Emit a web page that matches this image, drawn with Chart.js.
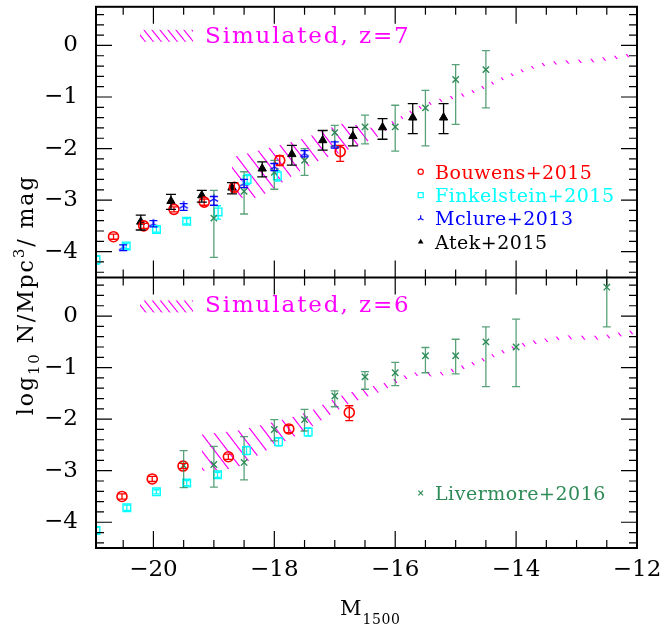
<!DOCTYPE html>
<html><head><meta charset="utf-8">
<script src="https://cdn.jsdelivr.net/npm/chart.js@4.4.1/dist/chart.umd.min.js"></script>
<style>html,body{margin:0;padding:0;background:#fff;}canvas{display:block;}</style>
</head><body>
<canvas id="c" width="665" height="626"></canvas>
<script>
// ---------- data ----------
const xTicks = [-20, -18, -16, -14, -12];
const yTicks = [-4, -3, -2, -1, 0];

// rows: [M1500, log10 phi, lower, upper]
const bouwens7 = [
  [-20.66,-3.71,-3.76,-3.66],[-20.16,-3.50,-3.55,-3.45],[-19.66,-3.18,-3.23,-3.13],
  [-19.16,-3.04,-3.10,-2.98],[-18.66,-2.75,-2.84,-2.66],[-17.91,-2.23,-2.33,-2.14],
  [-16.91,-2.06,-2.25,-1.94]];
const finkelstein7 = [
  [-20.95,-4.16,-4.24,-4.08],[-20.45,-3.89,-3.94,-3.84],[-19.95,-3.57,-3.62,-3.52],
  [-19.45,-3.41,-3.46,-3.36],[-18.93,-3.23,-3.37,-3.11],[-18.45,-2.60,-2.70,-2.50],
  [-17.95,-2.53,-2.63,-2.43]];
const mclure7 = [
  [-20.50,-3.92,-3.98,-3.87],[-20.00,-3.46,-3.52,-3.40],[-19.50,-3.11,-3.20,-3.07],
  [-19.00,-2.98,-3.10,-2.93],[-18.50,-2.68,-2.76,-2.60],[-18.00,-2.36,-2.43,-2.29],
  [-17.50,-2.10,-2.16,-2.04],[-17.00,-1.93,-1.99,-1.87]];
const atek7 = [
  [-20.21,-3.42,-3.58,-3.29],[-19.71,-3.02,-3.18,-2.89],[-19.20,-2.91,-3.04,-2.81],
  [-18.70,-2.76,-2.88,-2.66],[-18.20,-2.39,-2.55,-2.26],[-17.71,-2.11,-2.32,-1.94],
  [-17.20,-1.84,-2.03,-1.65],[-16.70,-1.76,-1.95,-1.59],[-16.21,-1.59,-1.82,-1.42],
  [-15.71,-1.40,-1.71,-1.13],[-15.20,-1.40,-1.71,-1.13]];
const livermore7 = [
  [-19.0,-3.35,-4.11,-2.81],[-18.5,-2.83,-3.27,-2.45],[-18.0,-2.46,-2.79,-2.23],
  [-17.5,-2.23,-2.52,-2.00],[-17.0,-1.69,-1.95,-1.55],[-16.5,-1.58,-1.91,-1.35],
  [-16.0,-1.58,-2.05,-1.16],[-15.5,-1.21,-1.95,-0.87],[-15.0,-0.66,-1.53,-0.37],
  [-14.5,-0.47,-1.21,-0.10]];

const bouwens6 = [
  [-20.52,-3.50,-3.55,-3.45],[-20.02,-3.16,-3.21,-3.11],[-19.51,-2.91,-2.96,-2.86],
  [-18.76,-2.73,-2.78,-2.68],[-17.76,-2.19,-2.26,-2.12],[-16.76,-1.87,-2.03,-1.74]];
const finkelstein6 = [
  [-20.95,-4.16,-4.22,-4.10],[-20.44,-3.72,-3.77,-3.67],[-19.95,-3.41,-3.45,-3.37],
  [-19.45,-3.24,-3.29,-3.19],[-18.94,-3.08,-3.13,-3.03],[-18.46,-2.61,-2.69,-2.53],
  [-17.93,-2.44,-2.52,-2.36],[-17.44,-2.25,-2.33,-2.17]];
const livermore6 = [
  [-19.5,-2.90,-3.33,-2.61],[-19.0,-2.88,-3.32,-2.53],[-18.5,-2.84,-3.18,-2.34],
  [-18.0,-2.20,-2.42,-2.01],[-17.5,-2.01,-2.23,-1.81],[-17.0,-1.55,-1.76,-1.45],
  [-16.5,-1.18,-1.42,-1.08],[-16.0,-1.10,-1.35,-0.90],[-15.5,-0.77,-1.10,-0.61],
  [-15.0,-0.77,-1.12,-0.45],[-14.5,-0.50,-1.37,-0.21],[-14.0,-0.60,-1.37,-0.06],
  [-12.5,0.56,-0.21,0.75]];

// simulated bands (upper / lower edges)
const sim7_M  = [-18.7,-18.4,-18.1,-17.8,-17.5,-17.2,-16.9,-16.6,-16.3,-16.0,-15.7,-15.4,-15.1,-14.8,-14.5,-14.2,-13.9,-13.6,-13.3,-13.0,-12.7,-12.4,-12.0];
const sim7_hi = [-2.17,-2.08,-1.99,-1.90,-1.80,-1.66,-1.52,-1.55,-1.62,-1.44,-1.225,-1.075,-0.985,-0.905,-0.755,-0.595,-0.455,-0.345,-0.295,-0.275,-0.255,-0.205,-0.135];
const sim7_lo = [-2.90,-3.00,-2.85,-2.60,-2.38,-2.20,-2.08,-1.93,-1.78,-1.52,-1.295,-1.145,-1.055,-0.975,-0.825,-0.665,-0.525,-0.415,-0.365,-0.345,-0.325,-0.275,-0.205];
const sim6_M  = [-19.2,-18.9,-18.6,-18.3,-18.0,-17.7,-17.4,-17.1,-16.8,-16.5,-16.2,-15.9,-15.6,-15.3,-15.0,-14.7,-14.4,-14.1,-13.8,-13.5,-13.2,-12.9,-12.6,-12.3,-12.0];
const sim6_hi = [-2.30,-2.26,-2.22,-2.14,-2.05,-1.96,-1.84,-1.66,-1.50,-1.40,-1.31,-1.17,-1.07,-1.10,-1.00,-0.88,-0.74,-0.60,-0.49,-0.43,-0.37,-0.38,-0.38,-0.32,-0.26];
const sim6_lo = [-3.00,-3.00,-2.93,-2.72,-2.52,-2.36,-2.16,-1.93,-1.72,-1.58,-1.45,-1.25,-1.15,-1.18,-1.08,-0.96,-0.82,-0.68,-0.57,-0.51,-0.45,-0.46,-0.46,-0.40,-0.34];

// ---------- helpers ----------
const FONT = '"DejaVu Serif", serif';
const MAG = '#ff00ff';
const GREEN = '#2e8b57';
const fmt = v => (v < 0 ? '\u2212' : '') + Math.abs(v);
const pts = rows => rows.map(r => ({x: r[0], y: r[1], lo: r[2], hi: r[3]}));
const band = (M, Y) => M.map((m, i) => ({x: m, y: Y[i]}));

function hatch(s, lw) {
  const w = s, h = Math.round(s * 1.27);
  const c = document.createElement('canvas'); c.width = w; c.height = h;
  const g = c.getContext('2d'); g.strokeStyle = MAG; g.lineWidth = lw;
  g.beginPath();
  for (let k = -1; k <= 1; k++) { g.moveTo(k * w, 0); g.lineTo(k * w + w, h); }
  g.stroke();
  return g.createPattern(c, 'repeat');
}
function tripod(size, color, lw) {
  const n = Math.ceil(size * 2 + 4);
  const c = document.createElement('canvas'); c.width = n; c.height = n;
  const g = c.getContext('2d'); g.strokeStyle = color; g.lineWidth = lw;
  const cx = n / 2, cy = n / 2;
  g.beginPath();
  for (const a of [-90, 30, 150]) { g.moveTo(cx, cy); g.lineTo(cx + size * Math.cos(a * Math.PI / 180), cy + size * Math.sin(a * Math.PI / 180)); }
  g.stroke();
  return c;
}
const bandPat = hatch(13, 1.2);
const samplePat = hatch(8, 1.1);

function ptSet(rows, axis, style, radius, color, fill, bw, cap, errColor) {
  return {data: pts(rows), yAxisID: axis, pointStyle: style, pointRadius: radius, pointHoverRadius: radius,
    pointBorderColor: color, pointBackgroundColor: fill, pointBorderWidth: bw, showLine: false,
    errCap: cap, errColor: errColor || color, order: 0};
}
function bandSet(M, Y, axis, fill) {
  return {data: band(M, Y), yAxisID: axis, showLine: true, pointRadius: 0, borderColor: 'rgba(0,0,0,0)',
    borderWidth: 1, fill: fill ? '-1' : false, backgroundColor: bandPat, tension: 0, order: 10};
}

const datasets = [
  bandSet(sim7_M, sim7_hi, 'yTop', false),
  bandSet(sim7_M, sim7_lo, 'yTop', true),
  bandSet(sim6_M, sim6_hi, 'yBot', false),
  bandSet(sim6_M, sim6_lo, 'yBot', true),
  ptSet(livermore7, 'yTop', 'crossRot', 4.5, GREEN, GREEN, 1.4, 8, 'rgba(46,139,87,0.8)'),
  ptSet(finkelstein7, 'yTop', 'rect', 5.4, '#00ffff', 'rgba(0,0,0,0)', 1.4, 6),
  ptSet(mclure7, 'yTop', tripod(4.8, '#0000ff', 1.4), 5, '#0000ff', '#0000ff', 1.4, 8),
  ptSet(bouwens7, 'yTop', 'circle', 5, '#ff0000', 'rgba(0,0,0,0)', 1.6, 8),
  ptSet(atek7, 'yTop', 'triangle', 4.8, '#000000', '#000000', 1, 10),
  ptSet(livermore6, 'yBot', 'crossRot', 4.5, GREEN, GREEN, 1.4, 8, 'rgba(46,139,87,0.8)'),
  ptSet(finkelstein6, 'yBot', 'rect', 5.4, '#00ffff', 'rgba(0,0,0,0)', 1.4, 6),
  ptSet(bouwens6, 'yBot', 'circle', 5, '#ff0000', 'rgba(0,0,0,0)', 1.6, 8)
];

function txt(ctx, s, x, y, size, color, ls, align) {
  ctx.font = size + 'px ' + FONT; ctx.fillStyle = color;
  ctx.letterSpacing = (ls || 0) + 'px';
  ctx.textAlign = align || 'left'; ctx.textBaseline = 'alphabetic';
  ctx.fillText(s, x, y);
  const w = ctx.measureText(s).width;
  ctx.letterSpacing = '0px';
  return w;
}

const errPlugin = {
  id: 'errbars',
  afterDatasetsDraw(chart) {
    const ctx = chart.ctx, ca = chart.chartArea;
    ctx.save();
    ctx.beginPath(); ctx.rect(ca.left, ca.top, ca.right - ca.left, ca.bottom - ca.top); ctx.clip();
    chart.data.datasets.forEach((ds, i) => {
      if (!ds.errCap) return;
      const meta = chart.getDatasetMeta(i), ys = chart.scales[ds.yAxisID];
      ctx.strokeStyle = ds.errColor; ctx.lineWidth = 1.3;
      meta.data.forEach((p, j) => {
        const d = ds.data[j], x = p.x, h = ds.errCap / 2;
        const y1 = ys.getPixelForValue(d.lo), y2 = ys.getPixelForValue(d.hi);
        ctx.beginPath();
        ctx.moveTo(x, y1); ctx.lineTo(x, y2);
        ctx.moveTo(x - h, y1); ctx.lineTo(x + h, y1);
        ctx.moveTo(x - h, y2); ctx.lineTo(x + h, y2);
        ctx.stroke();
      });
    });
    ctx.restore();
  }
};

const framePlugin = {
  id: 'frame',
  afterDraw(chart) {
    const ctx = chart.ctx, ca = chart.chartArea, xs = chart.scales.x;
    const panels = [chart.scales.yTop, chart.scales.yBot];
    ctx.save();
    ctx.strokeStyle = '#000'; ctx.lineWidth = 1.2;
    ctx.beginPath();
    for (const ys of panels) {
      const top = ys.top, bot = ys.bottom;
      for (let k = -42; k <= -24; k++) {
        const px = xs.getPixelForValue(k / 2);
        if (px < ca.left + 1 || px > ca.right - 1) continue;
        const len = (k % 4 === 0) ? 17 : 8;
        ctx.moveTo(px, top); ctx.lineTo(px, top + len);
        ctx.moveTo(px, bot); ctx.lineTo(px, bot - len);
      }
      for (let k = -23; k <= 4; k++) {
        const py = ys.getPixelForValue(k / 5);
        if (py < top + 1 || py > bot - 1) continue;
        const len = (k % 5 === 0) ? 16 : 8;
        ctx.moveTo(ca.left, py); ctx.lineTo(ca.left + len, py);
        ctx.moveTo(ca.right, py); ctx.lineTo(ca.right - len, py);
      }
    }
    ctx.stroke();
    ctx.lineWidth = 2;
    ctx.strokeRect(ca.left, ca.top, ca.right - ca.left, ca.bottom - ca.top);
    ctx.beginPath(); ctx.moveTo(ca.left, panels[0].bottom); ctx.lineTo(ca.right, panels[0].bottom); ctx.stroke();

    // simulated labels with hatch samples
    const yT = panels[0].top, yB = panels[1].top;
    ctx.fillStyle = samplePat;
    ctx.fillRect(140, yT + 23, 53, 12);
    ctx.fillRect(140, yB + 23, 53, 12);
    txt(ctx, 'Simulated, z=7', 205, yT + 35.7, 23, MAG, 1.9);
    txt(ctx, 'Simulated, z=6', 205, yB + 35, 23, MAG, 1.9);

    // legend (top panel)
    const lx = 420.7, tx = 435;
    const rows = [['Bouwens+2015', '#ff0000', 178.5], ['Finkelstein+2015', '#00ffff', 201.9],
                  ['Mclure+2013', '#0000ff', 225.3], ['Atek+2015', '#000000', 248.7]];
    rows.forEach((r, i) => {
      txt(ctx, r[0], tx, r[2], 19, r[1], 0.5);
      const my = r[2] - 6.8;
      ctx.strokeStyle = r[1]; ctx.fillStyle = r[1]; ctx.lineWidth = 1.2;
      ctx.beginPath();
      if (i === 0) { ctx.arc(lx, my, 2.6, 0, Math.PI * 2); ctx.stroke(); }
      else if (i === 1) { ctx.strokeRect(lx - 2.5, my - 2.5, 5, 5); }
      else if (i === 2) {
        for (const a of [-90, 30, 150]) { ctx.moveTo(lx, my); ctx.lineTo(lx + 3.2 * Math.cos(a * Math.PI / 180), my + 3.2 * Math.sin(a * Math.PI / 180)); }
        ctx.stroke();
      } else { ctx.moveTo(lx, my - 3.2); ctx.lineTo(lx + 2.8, my + 1.6); ctx.lineTo(lx - 2.8, my + 1.6); ctx.closePath(); ctx.fill(); }
    });
    // legend (bottom panel)
    txt(ctx, 'Livermore+2016', tx, 500, 19, GREEN, 0.5);
    ctx.strokeStyle = GREEN; ctx.lineWidth = 1.2; ctx.beginPath();
    ctx.moveTo(lx - 2.3, 493 - 2.3); ctx.lineTo(lx + 2.3, 493 + 2.3);
    ctx.moveTo(lx + 2.3, 493 - 2.3); ctx.lineTo(lx - 2.3, 493 + 2.3); ctx.stroke();

    // x title
    const wM = txt(ctx, 'M', 340, 615, 21, '#000', 0);
    txt(ctx, '1500', 340 + wM + 1, 624, 14, '#000', 0.6);

    // y title (rotated)
    ctx.save();
    ctx.translate(33, 295); ctx.rotate(-Math.PI / 2);
    const parts = [['log', 22, 0], ['10', 15, 6], [' N/Mpc', 22, 0], ['3', 15, -9], ['/ mag', 22, 0]];
    const ls = 1.9;
    let total = 0;
    for (const p of parts) { ctx.font = p[1] + 'px ' + FONT; ctx.letterSpacing = ls + 'px'; total += ctx.measureText(p[0]).width; }
    let x = -total / 2;
    for (const p of parts) { x += txt(ctx, p[0], x, p[2], p[1], '#000', ls); }
    ctx.restore();
    ctx.restore();
  }
};

const noPad = s => { s.paddingTop = 0; s.paddingBottom = 0; s.paddingLeft = 0; s.paddingRight = 0; };

const yScale = (weight) => ({
  type: 'linear', position: 'left', stack: 'panels', stackWeight: 1, weight: weight,
  min: -4.5, max: 0.75,
  afterFit: s => { s.width = 96; noPad(s); },
  afterBuildTicks: s => { s.ticks = yTicks.map(v => ({value: v})); },
  grid: {display: false, drawTicks: false}, border: {display: false},
  ticks: {font: {family: FONT, size: 23}, color: '#000', padding: 18, callback: fmt}
});

new Chart(document.getElementById('c'), {
  type: 'scatter',
  data: {datasets},
  options: {
    responsive: false, animation: false, devicePixelRatio: 1, events: [],
    layout: {padding: {left: 0, right: 28, top: 6, bottom: 0}},
    plugins: {legend: {display: false}, tooltip: {enabled: false}, title: {display: false}},
    scales: {
      x: {
        type: 'linear', position: 'bottom', min: -20.95, max: -12,
        afterFit: s => { s.height = 78; noPad(s); },
        afterBuildTicks: s => { s.ticks = xTicks.map(v => ({value: v})); },
        grid: {display: false, drawTicks: false}, border: {display: false},
        ticks: {font: {family: FONT, size: 23}, color: '#000', padding: 8, maxRotation: 0, autoSkip: false, callback: fmt}
      },
      yBot: yScale(0),
      yTop: yScale(1)
    }
  },
  plugins: [errPlugin, framePlugin]
});
</script>
</body></html>
